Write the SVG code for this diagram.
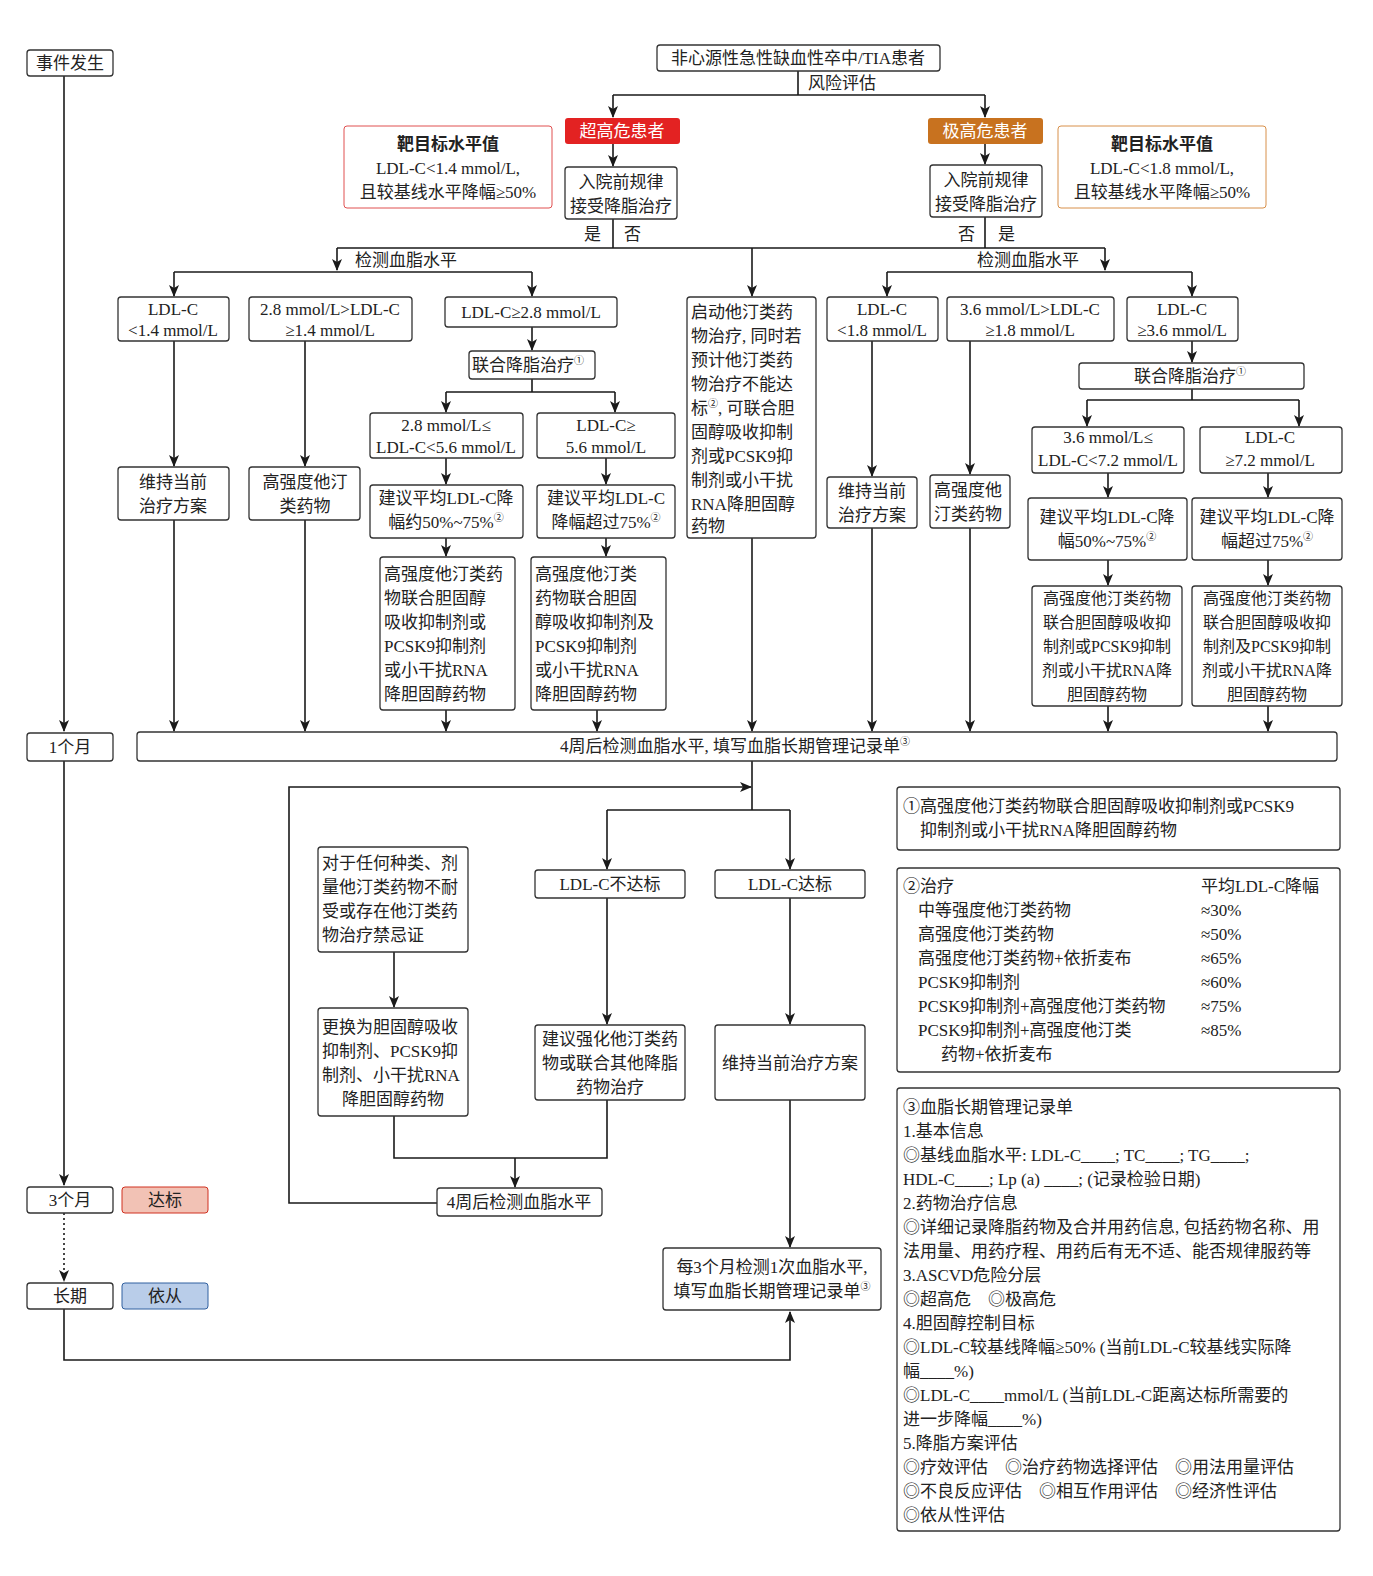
<svg xmlns="http://www.w3.org/2000/svg" width="1373" height="1576" viewBox="0 0 1373 1576">
<defs>
<marker id="ah" markerWidth="12" markerHeight="12" refX="11" refY="6" orient="auto" markerUnits="userSpaceOnUse"><path d="M0,1 L12,6 L0,11 L3,6 Z" fill="#1a1a1a"/></marker>
</defs>
<style>
text{font-family:"Liberation Serif","Noto Sans CJK SC",serif;font-size:17px;fill:#222}
.c{text-anchor:middle}
.b{fill:#fff;stroke:#333;stroke-width:1.3}
.l{fill:none;stroke:#1a1a1a;stroke-width:1.6}
.a{fill:none;stroke:#1a1a1a;stroke-width:1.6;marker-end:url(#ah)}
.s{font-size:10px}
.n{font-size:16px}
</style>
<rect width="1373" height="1576" fill="#fff"/>
<g id="connectors">
<path class="a" d="M64,76 V731"/><path class="a" d="M64,761 V1185"/>
<path class="a" d="M64,1213 V1281" style="stroke-dasharray:2 3"/>
<path class="a" d="M64,1309 V1360 H790 V1312"/>
<path class="l" d="M798,71 V95 M613,95 H985"/><path class="a" d="M613,95 V117"/><path class="a" d="M985,95 V117"/>
<path class="a" d="M613,144 V166"/><path class="a" d="M985,144 V164"/>
<path class="l" d="M613,219 V248 M985,217 V248 M337,248 H1105"/>
<path class="a" d="M337,248 V270"/><path class="a" d="M752,248 V296"/><path class="a" d="M1105,248 V270"/>
<path class="l" d="M174,272 H532"/><path class="a" d="M174,272 V296"/><path class="a" d="M532,272 V296"/>
<path class="a" d="M174,341 V466"/><path class="a" d="M305,341 V466"/>
<path class="a" d="M532,327 V350"/><path class="l" d="M532,379 V392 M446,392 H615"/>
<path class="a" d="M446,392 V412"/><path class="a" d="M615,392 V412"/>
<path class="a" d="M446,458 V484"/><path class="a" d="M606,458 V484"/>
<path class="a" d="M446,538 V556"/><path class="a" d="M606,538 V556"/>
<path class="l" d="M887,272 H1192"/><path class="a" d="M887,272 V296"/><path class="a" d="M1192,272 V296"/>
<path class="a" d="M872,341 V476"/><path class="a" d="M970,341 V474"/>
<path class="a" d="M1192,341 V362"/><path class="l" d="M1192,389 V400 M1087,400 H1299"/>
<path class="a" d="M1087,400 V426"/><path class="a" d="M1299,400 V426"/>
<path class="a" d="M1108,473 V497"/><path class="a" d="M1268,473 V497"/>
<path class="a" d="M1108,560 V585"/><path class="a" d="M1268,560 V585"/>
<path class="a" d="M174,520 V731"/><path class="a" d="M305,520 V731"/><path class="a" d="M446,710 V731"/><path class="a" d="M597,710 V731"/>
<path class="a" d="M752,538 V731"/><path class="a" d="M872,528 V731"/><path class="a" d="M970,528 V731"/><path class="a" d="M1108,706 V731"/><path class="a" d="M1268,706 V731"/>
<path class="l" d="M752,761 V810 M607,810 H790"/>
<path class="a" d="M437,1203 H289 V787 H751"/>
<path class="a" d="M607,810 V869"/><path class="a" d="M790,810 V869"/>
<path class="a" d="M607,898 V1024"/><path class="a" d="M790,898 V1024"/>
<path class="a" d="M790,1100 V1247"/>
<path class="a" d="M394,952 V1007"/>
<path class="l" d="M394,1116 V1158 H607 V1100"/><path class="a" d="M515,1158 V1187"/>
</g>
<g id="timeline">
<rect class="b" x="27" y="50" width="86" height="26" rx="3"/><text class="c" x="70" y="69">事件发生</text>
<rect class="b" x="27" y="733" width="86" height="28" rx="3"/><text class="c" x="70" y="753">1个月</text>
<rect class="b" x="27" y="1187" width="86" height="26" rx="3"/><text class="c" x="70" y="1206">3个月</text>
<rect class="b" x="27" y="1283" width="86" height="26" rx="3"/><text class="c" x="70" y="1302">长期</text>
<rect x="122" y="1187" width="86" height="26" rx="3" fill="#f2c2b5" stroke="#d03020"/><text class="c" x="165" y="1206">达标</text>
<rect x="122" y="1283" width="86" height="26" rx="3" fill="#b9cde9" stroke="#3060a0"/><text class="c" x="165" y="1302">依从</text>
</g>
<g id="top">
<rect class="b" x="657" y="45" width="283" height="26" rx="3"/><text class="c" x="798" y="64">非心源性急性缺血性卒中/TIA患者</text>
<text x="808" y="89">风险评估</text>
</g>
<g id="vh"><rect x="565" y="118" width="115" height="26" rx="3" fill="#e32222"/><text class="c" x="622" y="137" style="fill:#fff">超高危患者</text></g>
<g id="eh"><rect x="928" y="118" width="115" height="26" rx="3" fill="#c8721f"/><text class="c" x="985" y="137" style="fill:#fff">极高危患者</text></g>
<g id="tl"><rect x="344" y="126" width="208" height="82" rx="3" fill="#fff" stroke="#e05050"/><text class="c" x="448" y="150" style="font-weight:bold">靶目标水平值</text><text class="c" x="448" y="174">LDL-C&lt;1.4 mmol/L,</text><text class="c" x="448" y="198">且较基线水平降幅≥50%</text></g>
<g id="tr"><rect x="1058" y="126" width="208" height="82" rx="3" fill="#fff" stroke="#d8904a"/><text class="c" x="1162" y="150" style="font-weight:bold">靶目标水平值</text><text class="c" x="1162" y="174">LDL-C&lt;1.8 mmol/L,</text><text class="c" x="1162" y="198">且较基线水平降幅≥50%</text></g>
<g id="ql"><rect class="b" x="565" y="167" width="112" height="52" rx="3"/><text class="c" x="621" y="188">入院前规律</text><text class="c" x="621" y="212">接受降脂治疗</text></g>
<g id="qr"><rect class="b" x="930" y="165" width="112" height="52" rx="3"/><text class="c" x="986" y="186">入院前规律</text><text class="c" x="986" y="210">接受降脂治疗</text></g>
<g id="yn"><text x="584" y="240">是</text><text x="624" y="240">否</text><text x="958" y="240">否</text><text x="998" y="240">是</text>
<text x="355" y="266">检测血脂水平</text><text x="977" y="266">检测血脂水平</text></g>
<g id="l1"><rect class="b" x="118" y="297" width="111" height="44" rx="3"/><text class="c" x="173" y="315">LDL-C</text><text class="c" x="173" y="336">&lt;1.4 mmol/L</text></g>
<g id="l2"><rect class="b" x="249" y="297" width="163" height="44" rx="3"/><text class="c" x="330" y="315">2.8 mmol/L&gt;LDL-C</text><text class="c" x="330" y="336">≥1.4 mmol/L</text></g>
<g id="l3"><rect class="b" x="445" y="297" width="172" height="30" rx="3"/><text class="c" x="531" y="318">LDL-C≥2.8 mmol/L</text></g>
<g id="l4"><rect class="b" x="118" y="467" width="111" height="53" rx="3"/><text class="c" x="173" y="488">维持当前</text><text class="c" x="173" y="512">治疗方案</text></g>
<g id="l5"><rect class="b" x="249" y="467" width="111" height="53" rx="3"/><text class="c" x="305" y="488">高强度他汀</text><text class="c" x="305" y="512">类药物</text></g>
<g id="l6"><rect class="b" x="469" y="351" width="126" height="28" rx="3"/><text class="c" x="528" y="371">联合降脂治疗<tspan class="s" dy="-7">①</tspan></text></g>
<g id="l7"><rect class="b" x="370" y="413" width="153" height="45" rx="3"/><text class="c" x="446" y="431">2.8 mmol/L≤</text><text class="c" x="446" y="453">LDL-C&lt;5.6 mmol/L</text></g>
<g id="l8"><rect class="b" x="537" y="413" width="138" height="45" rx="3"/><text class="c" x="606" y="431">LDL-C≥</text><text class="c" x="606" y="453">5.6 mmol/L</text></g>
<g id="l9"><rect class="b" x="370" y="485" width="153" height="53" rx="3"/><text class="c" x="446" y="504">建议平均LDL-C降</text><text class="c" x="446" y="528">幅约50%~75%<tspan class="s" dy="-7">②</tspan></text></g>
<g id="l10"><rect class="b" x="537" y="485" width="138" height="53" rx="3"/><text class="c" x="606" y="504">建议平均LDL-C</text><text class="c" x="606" y="528">降幅超过75%<tspan class="s" dy="-7">②</tspan></text></g>
<g id="l11"><rect class="b" x="380" y="557" width="135" height="153" rx="3"/><text x="384" y="580">高强度他汀类药</text><text x="384" y="604">物联合胆固醇</text><text x="384" y="628">吸收抑制剂或</text><text x="384" y="652">PCSK9抑制剂</text><text x="384" y="676">或小干扰RNA</text><text x="384" y="700">降胆固醇药物</text></g>
<g id="l12"><rect class="b" x="531" y="557" width="135" height="153" rx="3"/><text x="535" y="580">高强度他汀类</text><text x="535" y="604">药物联合胆固</text><text x="535" y="628">醇吸收抑制剂及</text><text x="535" y="652">PCSK9抑制剂</text><text x="535" y="676">或小干扰RNA</text><text x="535" y="700">降胆固醇药物</text></g>
<g id="mid"><rect class="b" x="687" y="297" width="129" height="241" rx="3"/>
<text x="691" y="318">启动他汀类药</text><text x="691" y="342">物治疗, 同时若</text><text x="691" y="366">预计他汀类药</text><text x="691" y="390">物治疗不能达</text><text x="691" y="414">标<tspan class="s" dy="-7">②</tspan><tspan dy="7">, 可联合胆</tspan></text><text x="691" y="438">固醇吸收抑制</text><text x="691" y="462">剂或PCSK9抑</text><text x="691" y="486">制剂或小干扰</text><text x="691" y="510">RNA降胆固醇</text><text x="691" y="532">药物</text></g>
<g id="r1"><rect class="b" x="827" y="297" width="111" height="44" rx="3"/><text class="c" x="882" y="315">LDL-C</text><text class="c" x="882" y="336">&lt;1.8 mmol/L</text></g>
<g id="r2"><rect class="b" x="947" y="297" width="167" height="44" rx="3"/><text class="c" x="1030" y="315">3.6 mmol/L&gt;LDL-C</text><text class="c" x="1030" y="336">≥1.8 mmol/L</text></g>
<g id="r3"><rect class="b" x="1127" y="297" width="111" height="44" rx="3"/><text class="c" x="1182" y="315">LDL-C</text><text class="c" x="1182" y="336">≥3.6 mmol/L</text></g>
<g id="r4"><rect class="b" x="827" y="477" width="90" height="51" rx="3"/><text class="c" x="872" y="497">维持当前</text><text class="c" x="872" y="521">治疗方案</text></g>
<g id="r5"><rect class="b" x="930" y="475" width="80" height="53" rx="3"/><text x="934" y="496">高强度他</text><text x="934" y="520">汀类药物</text></g>
<g id="r6"><rect class="b" x="1079" y="363" width="225" height="26" rx="3"/><text class="c" x="1190" y="382">联合降脂治疗<tspan class="s" dy="-7">①</tspan></text></g>
<g id="r7"><rect class="b" x="1032" y="427" width="152" height="46" rx="3"/><text class="c" x="1108" y="443">3.6 mmol/L≤</text><text class="c" x="1108" y="466">LDL-C&lt;7.2 mmol/L</text></g>
<g id="r8"><rect class="b" x="1200" y="427" width="142" height="46" rx="3"/><text class="c" x="1270" y="443">LDL-C</text><text class="c" x="1270" y="466">≥7.2 mmol/L</text></g>
<g id="r9"><rect class="b" x="1028" y="498" width="159" height="62" rx="3"/><text class="c" x="1107" y="523">建议平均LDL-C降</text><text class="c" x="1107" y="547">幅50%~75%<tspan class="s" dy="-7">②</tspan></text></g>
<g id="r10"><rect class="b" x="1192" y="498" width="150" height="62" rx="3"/><text class="c" x="1267" y="523">建议平均LDL-C降</text><text class="c" x="1267" y="547">幅超过75%<tspan class="s" dy="-7">②</tspan></text></g>
<g id="r11"><rect class="b" x="1032" y="586" width="150" height="120" rx="3"/><text class="c n" x="1107" y="604">高强度他汀类药物</text><text class="c n" x="1107" y="628">联合胆固醇吸收抑</text><text class="c n" x="1107" y="652">制剂或PCSK9抑制</text><text class="c n" x="1107" y="676">剂或小干扰RNA降</text><text class="c n" x="1107" y="700">胆固醇药物</text></g>
<g id="r12"><rect class="b" x="1192" y="586" width="150" height="120" rx="3"/><text class="c n" x="1267" y="604">高强度他汀类药物</text><text class="c n" x="1267" y="628">联合胆固醇吸收抑</text><text class="c n" x="1267" y="652">制剂及PCSK9抑制</text><text class="c n" x="1267" y="676">剂或小干扰RNA降</text><text class="c n" x="1267" y="700">胆固醇药物</text></g>
<g id="w4"><rect class="b" x="137" y="732" width="1200" height="29" rx="3"/><text class="c" x="735" y="752">4周后检测血脂水平, 填写血脂长期管理记录单<tspan class="s" dy="-7">③</tspan></text></g>
<g id="intol"><rect class="b" x="318" y="847" width="150" height="105" rx="3"/><text x="322" y="869">对于任何种类、剂</text><text x="322" y="893">量他汀类药物不耐</text><text x="322" y="917">受或存在他汀类药</text><text x="322" y="941">物治疗禁忌证</text></g>
<g id="switch"><rect class="b" x="318" y="1008" width="150" height="108" rx="3"/><text x="322" y="1033">更换为胆固醇吸收</text><text x="322" y="1057">抑制剂、PCSK9抑</text><text x="322" y="1081">制剂、小干扰RNA</text><text class="c" x="393" y="1105">降胆固醇药物</text></g>
<g id="notmet"><rect class="b" x="535" y="870" width="150" height="28" rx="3"/><text class="c" x="610" y="890">LDL-C不达标</text></g>
<g id="met"><rect class="b" x="715" y="870" width="150" height="28" rx="3"/><text class="c" x="790" y="890">LDL-C达标</text></g>
<g id="inten"><rect class="b" x="535" y="1025" width="150" height="75" rx="3"/><text class="c" x="610" y="1045">建议强化他汀类药</text><text class="c" x="610" y="1069">物或联合其他降脂</text><text class="c" x="610" y="1093">药物治疗</text></g>
<g id="keep"><rect class="b" x="715" y="1025" width="150" height="75" rx="3"/><text class="c" x="790" y="1069">维持当前治疗方案</text></g>
<g id="w4b"><rect class="b" x="437" y="1188" width="165" height="28" rx="3"/><text class="c" x="519" y="1208">4周后检测血脂水平</text></g>
<g id="m3"><rect class="b" x="663" y="1248" width="218" height="62" rx="3"/><text class="c" x="772" y="1273">每3个月检测1次血脂水平,</text><text class="c" x="772" y="1297">填写血脂长期管理记录单<tspan class="s" dy="-7">③</tspan></text></g>
<g id="note1"><rect class="b" x="897" y="787" width="443" height="63" rx="3"/><text x="903" y="812">①高强度他汀类药物联合胆固醇吸收抑制剂或PCSK9</text><text x="920" y="836">抑制剂或小干扰RNA降胆固醇药物</text></g>
<g id="note2"><rect class="b" x="897" y="868" width="443" height="204" rx="3"/>
<text x="903" y="892">②治疗</text><text x="1201" y="892">平均LDL-C降幅</text>
<text x="918" y="916">中等强度他汀类药物</text><text x="1201" y="916">≈30%</text>
<text x="918" y="940">高强度他汀类药物</text><text x="1201" y="940">≈50%</text>
<text x="918" y="964">高强度他汀类药物+依折麦布</text><text x="1201" y="964">≈65%</text>
<text x="918" y="988">PCSK9抑制剂</text><text x="1201" y="988">≈60%</text>
<text x="918" y="1012">PCSK9抑制剂+高强度他汀类药物</text><text x="1201" y="1012">≈75%</text>
<text x="918" y="1036">PCSK9抑制剂+高强度他汀类</text><text x="1201" y="1036">≈85%</text>
<text x="941" y="1060">药物+依折麦布</text></g>
<g id="note3"><rect class="b" x="897" y="1088" width="443" height="443" rx="3"/>
<text x="903" y="1113">③血脂长期管理记录单</text>
<text x="903" y="1137">1.基本信息</text>
<text x="903" y="1161">◎基线血脂水平: LDL-C____; TC____; TG____;</text>
<text x="903" y="1185">HDL-C____; Lp (a) ____; (记录检验日期)</text>
<text x="903" y="1209">2.药物治疗信息</text>
<text x="903" y="1233">◎详细记录降脂药物及合并用药信息, 包括药物名称、用</text>
<text x="903" y="1257">法用量、用药疗程、用药后有无不适、能否规律服药等</text>
<text x="903" y="1281">3.ASCVD危险分层</text>
<text x="903" y="1305">◎超高危　◎极高危</text>
<text x="903" y="1329">4.胆固醇控制目标</text>
<text x="903" y="1353">◎LDL-C较基线降幅≥50% (当前LDL-C较基线实际降</text>
<text x="903" y="1377">幅____%)</text>
<text x="903" y="1401">◎LDL-C____mmol/L (当前LDL-C距离达标所需要的</text>
<text x="903" y="1425">进一步降幅____%)</text>
<text x="903" y="1449">5.降脂方案评估</text>
<text x="903" y="1473">◎疗效评估　◎治疗药物选择评估　◎用法用量评估</text>
<text x="903" y="1497">◎不良反应评估　◎相互作用评估　◎经济性评估</text>
<text x="903" y="1521">◎依从性评估</text></g>
</svg>
